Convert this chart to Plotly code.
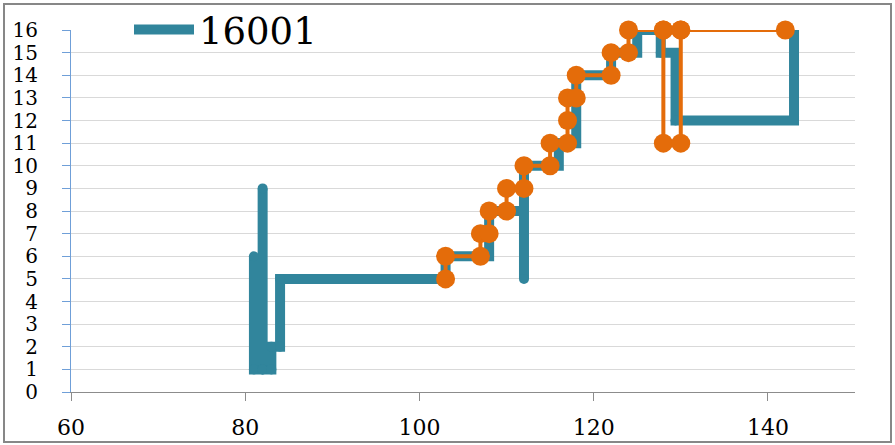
import plotly.graph_objects as go

# Series 16001 (teal step line)
teal_x = [81, 81, 82, 82, 82, 83, 83, 84, 84, 103, 108, 112, 112, 116, 118, 122, 125, 127.7, 129.4, 143]
teal_y = [6, 1, 1, 9, 1, 1, 2, 2, 5, 6, 8, 5, 10, 11, 14, 15, 16, 15, 12, 16]

# Second series (orange, markers + lines)
orange_x = [103, 103, 107, 107, 108, 108, 110, 110, 112, 112, 115, 115, 117, 117, 117, 118, 118,
            122, 122, 124, 124, 128, 128, 128, 130, 130, 130, 142]
orange_y = [5, 6, 6, 7, 7, 8, 8, 9, 9, 10, 10, 11, 11, 12, 13, 13, 14,
            14, 15, 15, 16, 16, 11, 16, 16, 11, 16, 16]

x_ticks = [60, 80, 100, 120, 140]
y_ticks = list(range(0, 17))

TEAL = "#31859C"
ORANGE = "#E46C0A"

fig = go.Figure()
fig.add_trace(go.Scatter(
    x=teal_x, y=teal_y, mode="lines", name="16001",
    line=dict(color=TEAL, width=10, shape="hv"),
))
# rounded ends at the teal vertices
fig.add_trace(go.Scatter(
    x=teal_x, y=teal_y, mode="markers", showlegend=False, hoverinfo="skip",
    marker=dict(color=TEAL, size=10, line=dict(width=0)),
))
fig.add_trace(go.Scatter(
    x=orange_x, y=orange_y, mode="lines+markers", name="orange", showlegend=False,
    line=dict(color=ORANGE, width=4),
    marker=dict(color=ORANGE, size=19, line=dict(width=0)),
    cliponaxis=False,
))

L, R, T, B = 71, 40, 30, 53
W, H = 895, 445
pw = W - L - R
ph = H - T - B

fig.update_layout(
    width=W, height=H,
    margin=dict(l=L, r=R, t=T, b=B, pad=0, autoexpand=False),
    paper_bgcolor="white", plot_bgcolor="white",
    showlegend=True,
    legend=dict(
        x=(129 - L) / pw, y=1.0, xanchor="left", yanchor="middle",
        font=dict(family="DejaVu Serif", size=37, color="#000000"),
        bgcolor="rgba(0,0,0,0)", itemwidth=60, tracegroupgap=0,
    ),
    xaxis=dict(
        range=[60, 150], tickvals=x_ticks, ticktext=[str(v) for v in x_ticks],
        showgrid=False, zeroline=False,
        showline=True, linecolor="#8c8c8c", linewidth=1,
        ticks="outside", ticklen=8, tickcolor="#8c8c8c", tickwidth=1,
        tickfont=dict(family="DejaVu Serif", size=22, color="#000000"),
        ticklabelstandoff=8,
    ),
    yaxis=dict(
        range=[0, 16], tickvals=y_ticks, ticktext=[str(v) for v in y_ticks],
        showgrid=True, gridcolor="#d9d9d9", gridwidth=1, zeroline=False,
        showline=True, linecolor="#6f9fd8", linewidth=1,
        ticks="outside", ticklen=8, tickcolor="#6f9fd8", tickwidth=1,
        tickfont=dict(family="DejaVu Serif", size=20, color="#000000"),
        ticklabelstandoff=20,
    ),
    shapes=[dict(
        type="rect", xref="paper", yref="paper",
        x0=(4 - L) / pw, x1=(891 - L) / pw,
        y0=(H - B - 442) / ph, y1=(H - B - 4) / ph,
        line=dict(color="#878787", width=2), fillcolor="rgba(0,0,0,0)", layer="below",
    )],
)

fig.write_html(
    "out.html",
    config={"displayModeBar": False},
    post_script="document.body.style.margin='0';document.body.style.overflow='hidden';",
)
